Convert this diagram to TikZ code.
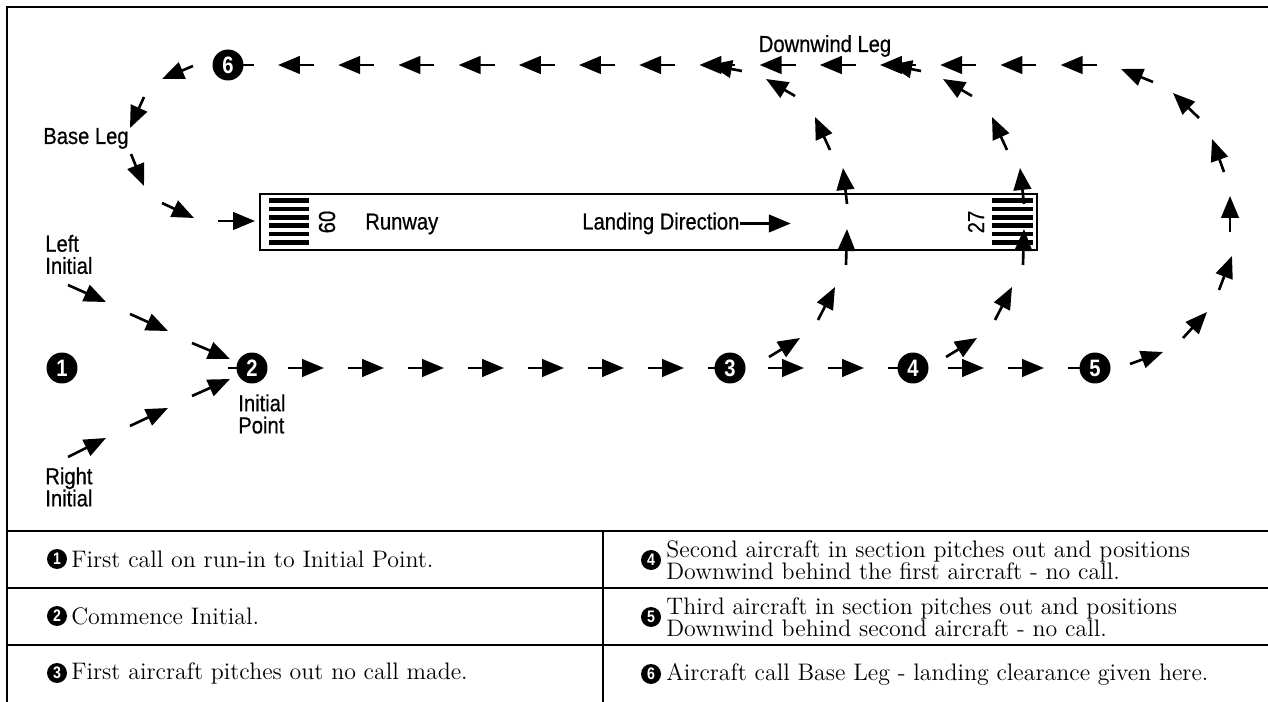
\documentclass[tikz,border=0pt]{standalone}
\usepackage{fontspec}
\newfontfamily\labelfont{Liberation Sans}[FakeStretch=0.87, FakeBold=0.6]
\newfontfamily\numfont{Liberation Sans}[FakeStretch=0.85]
\usetikzlibrary{arrows.meta}

\tikzset{
  leg/.style={line width=1.5pt, -{Triangle[length=12.5pt,width=10pt]}},
  fix/.style={circle, fill=black, inner sep=0pt, minimum size=0.62cm, text=white,
    font=\numfont\bfseries\fontsize{13.5}{14}\selectfont},
  tag/.style={font=\labelfont\fontsize{13.2}{12.6}\selectfont, inner sep=0pt, align=left},
  key/.style={circle, fill=black, inner sep=0pt, minimum size=0.4cm, text=white,
    font=\numfont\bfseries\fontsize{9.5}{9.5}\selectfont},
  note/.style={font=\fontsize{13.6}{12.8}\selectfont, inner sep=0pt, align=left, anchor=west},
}

\begin{document}
\begin{tikzpicture}[x=0.02cm, y=-0.02cm]
    \useasboundingbox (0,0) rectangle (1268,702);

    % frame and table rules
    \draw[line width=1.5pt] (1268,7) -- (7,7) -- (7,702);
    \draw[line width=0.8pt] (7,531) -- (1268,531);
    \draw[line width=0.8pt] (7,588) -- (1268,588);
    \draw[line width=0.8pt] (7,645) -- (1268,645);
    \draw[line width=0.8pt] (603,531) -- (603,702);

    % runway with threshold bars
    \draw[line width=1.1pt] (260,194) rectangle (1037,250);
    \foreach \y in {200.5, 209, 217.4, 225.8, 234.2, 242.6} {
        \fill (269,\y-2.3) rectangle (309,\y+2.3);
        \fill (992,\y-2.3) rectangle (1033,\y+2.3);
    }
    \node[tag, rotate=-90] (num09) at (327,222) {09};
    \node[tag, rotate=90] (num27) at (976,222) {27};
    \node[tag, anchor=base west] (rwy) at (365,229.5) {Runway};
    \node[tag, anchor=base west] (landdir) at (582,229.5) {Landing Direction};
    \draw[leg] (landdir.east) -- ++(51,0);

    % downwind row and initial row
    \foreach \k in {-1,...,13}
        \draw[leg] ({314+60.2*\k},65) -- ({278+60.2*\k},65);
    \foreach \k in {-1,...,13}
        \draw[leg] ({288+60*\k},368) -- ({324+60*\k},368);

    % merging into downwind
    \draw[leg] (742,71) -- (710,65);
    \draw[leg] (921,71) -- (890,65);

    % left and right initial
    \draw[leg] (68,285) -- (106,302);
    \draw[leg] (130,314) -- (168,331);
    \draw[leg] (192,343) -- (230,359);
    \draw[leg] (192,396) -- (230,379);
    \draw[leg] (130,426) -- (168,408);
    \draw[leg] (68,457) -- (106,438);

    % base leg turn
    \draw[leg] (193,66) -- (162,79);
    \draw[leg] (144,97) -- (130,128);
    \draw[leg] (131,154) -- (144,186);
    \draw[leg] (162,203) -- (194,218);
    \draw[leg] (218,221) -- (255,221);

    % pitch outs
    \foreach \dx in {0,177} {
        \draw[leg] (769+\dx,357) -- (800+\dx,338);
        \draw[leg] (818+\dx,320) -- (835+\dx,287);
        \draw[leg] (846+\dx,265) -- (847+\dx,229);
        \draw[leg] (847+\dx,204) -- (843+\dx,168);
        \draw[leg] (830+\dx,150) -- (815+\dx,117);
        \draw[leg] (795+\dx,96) -- (766+\dx,79);
    }
    \draw[leg] (1130,364) -- (1163,352);
    \draw[leg] (1183,338) -- (1207,312);
    \draw[leg] (1219,290) -- (1232,256);
    \draw[leg] (1230,232) -- (1230,196);
    \draw[leg] (1224,172) -- (1212,139);
    \draw[leg] (1199,118) -- (1173,93);
    \draw[leg] (1153,82) -- (1121,69);

    % numbered points
    \node[fix] (p1) at (62,368) {1};
    \node[fix] (p2) at (252,368) {2};
    \node[fix] (p3) at (730,368) {3};
    \node[fix] (p4) at (913,368) {4};
    \node[fix] (p5) at (1095,368) {5};
    \node[fix] (p6) at (228,65) {6};

    \node[tag, anchor=base west] (base) at (43,144) {Base Leg};
    \node[tag, anchor=west] (left) at (45,254.5) {Left\\Initial};
    \node[tag, anchor=west] (right) at (45,487) {Right\\Initial};
    \node[tag, anchor=west] (ip) at (238,414) {Initial\\Point};
    \node[tag, anchor=base] (downwind) at (825,52) {Downwind Leg};

    % legend
    \node[key] (k1) at (57,559) {1};
    \node[note] at (71,559) {First call on run-in to Initial Point.};
    \node[key] (k2) at (57,616) {2};
    \node[note] at (71,616) {Commence Initial.};
    \node[key] (k3) at (57,673) {3};
    \node[note] at (71,673) {First aircraft pitches out no call made.};
    \node[key] (k4) at (651,560) {4};
    \node[note] at (666,560) {Second aircraft in section pitches out and positions\\Downwind behind the first aircraft - no call.};
    \node[key] (k5) at (651,617) {5};
    \node[note] at (666,617) {Third aircraft in section pitches out and positions\\Downwind behind second aircraft - no call.};
    \node[key] (k6) at (651,674) {6};
    \node[note] at (666,674) {Aircraft call Base Leg - landing clearance given here.};
\end{tikzpicture}
\end{document}
